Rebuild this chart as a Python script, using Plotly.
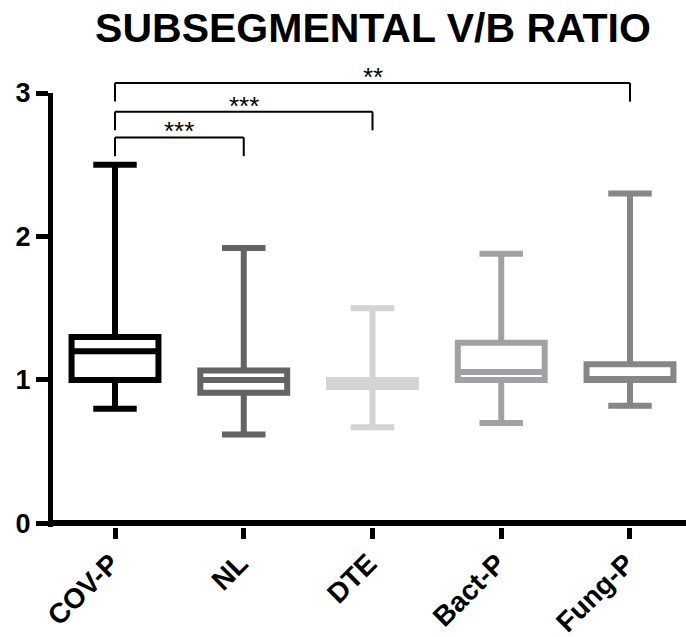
import plotly.graph_objects as go

# ---- data ----
categories = ["COV-P", "NL", "DTE", "Bact-P", "Fung-P"]
q1_vals = [1.00, 0.91, 0.95, 1.00, 1.00]
median_vals = [1.20, 1.00, 0.975, 1.055, 1.00]
q3_vals = [1.30, 1.065, 1.00, 1.26, 1.11]
lower_vals = [0.80, 0.62, 0.67, 0.70, 0.82]
upper_vals = [2.50, 1.92, 1.50, 1.88, 2.30]
box_colors = ["#000000", "#636363", "#d4d4d4", "#a1a1a5", "#868686"]

y_tick_vals = [0, 1, 2, 3]

# significance brackets: (from, to, top level, bottom of drop, label)
brackets = [
    ("COV-P", "NL", 2.69, 2.56, "***"),
    ("COV-P", "DTE", 2.87, 2.74, "***"),
    ("COV-P", "Fung-P", 3.07, 2.94, "**"),
]

Y_RANGE = [-0.025, 3.0]
FONT = "Arial, Liberation Sans, Helvetica, sans-serif"

fig = go.Figure()
for i, cat in enumerate(categories):
    fig.add_trace(go.Box(
        x=[cat], q1=[q1_vals[i]], median=[median_vals[i]], q3=[q3_vals[i]],
        lowerfence=[lower_vals[i]], upperfence=[upper_vals[i]],
        line=dict(color=box_colors[i], width=6),
        fillcolor="white", width=0.675, whiskerwidth=0.5,
        boxpoints=False, showlegend=False, hoverinfo="skip",
    ))


def to_paper(v):
    return (v - Y_RANGE[0]) / (Y_RANGE[1] - Y_RANGE[0])


shapes = []
annotations = []
for a, b, top, drop, label in brackets:
    xa, xb = categories.index(a), categories.index(b)
    yt, yd = to_paper(top), to_paper(drop)
    line = dict(color="black", width=2)
    shapes.append(dict(type="line", xref="x", yref="paper", x0=xa, x1=xb, y0=yt, y1=yt, line=line))
    shapes.append(dict(type="line", xref="x", yref="paper", x0=xa, x1=xa, y0=yt, y1=yd, line=line))
    shapes.append(dict(type="line", xref="x", yref="paper", x0=xb, x1=xb, y0=yt, y1=yd, line=line))
    annotations.append(dict(x=(xa + xb) / 2, y=yt, xref="x", yref="paper", text=label,
                            showarrow=False, yanchor="middle", xanchor="center", yshift=6,
                            font=dict(family=FONT, size=26, color="black")))

fig.update_layout(
    width=686, height=637,
    margin=dict(l=53, r=0, t=93, b=110, autoexpand=False),
    plot_bgcolor="white", paper_bgcolor="white",
    title=dict(text="SUBSEGMENTAL V/B RATIO", x=373 / 686, xanchor="center",
               y=1 - 28 / 637, yanchor="middle", xref="container", yref="container",
               font=dict(family=FONT, size=41, color="black", weight="bold")),
    shapes=shapes, annotations=annotations,
    xaxis=dict(type="category", categoryorder="array", categoryarray=categories,
               range=[-0.4816, 4.435], showline=False, showgrid=False, zeroline=False,
               automargin=False,
               ticks="outside", ticklen=11, tickwidth=5, tickcolor="black",
               tickangle=-45, ticklabelstandoff=-3, ticklabelshift=-4,
               tickfont=dict(family=FONT, size=28, color="black", weight="bold")),
    yaxis=dict(range=Y_RANGE, tickvals=y_tick_vals, ticktext=[str(v) for v in y_tick_vals],
               automargin=False,
               showline=True, linecolor="black", linewidth=5, showgrid=False,
               zeroline=True, zerolinecolor="black", zerolinewidth=6,
               ticks="outside", ticklen=12, tickwidth=5, tickcolor="black",
               tickfont=dict(family=FONT, size=27, color="black", weight="bold")),
)

fig.write_html(
    "out.html",
    config={"displayModeBar": False},
    post_script="document.body.style.margin='0';document.body.style.padding='0';"
                "document.body.style.overflow='hidden';",
)
